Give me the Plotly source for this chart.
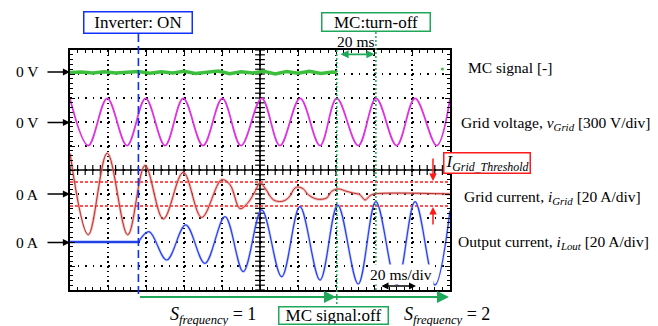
import numpy as np
import plotly.graph_objects as go

# page body has an 8px margin: the figure is drawn 8px in from the window corner
OFF = 8
W, H = 658 - OFF, 326 - OFF

# ---------------- data ----------------
T_SPAN_MS = 200          # 10 div x 20 ms/div
MS_PER_DIV = 20
V_PER_DIV = 300
A_PER_DIV = 20
INVERTER_ON_MS = 36.0
MC_SIGNAL_OFF_MS = 140.4
MC_TURNOFF_MS = 161.0
I_THRESHOLD_A = 10

# channel zero positions (in divisions from centre)
MC_ZERO_DIV = 4.06
VG_ZERO_DIV = 2.0
IG_ZERO_DIV = -1.0
IL_ZERO_DIV = -3.0

# MC signal (div, noisy band) until the signal switches off
mc_t = [0, 6, 12, 18, 24, 30, 36, 42, 48, 54, 60, 66, 72, 78, 84, 90, 96, 102,
        108, 114, 120, 126, 132, 138, 140.4]
mc_val = [0.00, 0.02, -0.02, 0.03, -0.02, 0.02, 0.04, -0.03, 0.03, -0.02, 0.05,
          -0.04, 0.02, 0.06, -0.05, 0.03, -0.02, 0.05, -0.06, 0.04, -0.03, 0.05,
          -0.04, 0.02, 0.0]

# Grid voltage extrema (ms, V)
vg_t = [0, 9.6, 19.6, 30.0, 39.8, 50.0, 59.6, 70.0, 80.2, 90.0, 100.9, 110.5,
        121.1, 131.6, 140.4, 151.7, 161.1, 171.9, 181.6, 193.0, 200.0]
vg_v = [290, -295, 295, -295, 295, -295, 295, -295, 295, -295, 295, -295,
        295, -295, 295, -295, 295, -295, 295, -295, 285]

# Grid current (ms, A)
ig_t = [0, 9.6, 19.6, 30.4, 39.5, 49.1, 59.6, 69.3, 79.8, 84.2, 89.5, 93.8,
        97.4, 100.0, 102.6, 107.0, 111.4, 114.9, 118.4, 120.2, 122.8, 125.4,
        129.8, 135.1, 137.7, 141.2, 145.6, 149.1, 152.6, 155.3, 157.9, 160.0, 200.0]
ig_a = [34, -34, 34, -34, 23.8, -20.8, 18.0, -19.5, 11.9, 7.8, -12.2, -7.0,
        2.2, 9.2, 5.0, -4.8, -6.2, -3.3, 5.0, 5.8, 4.2, -0.6,
        -4.2, -3.3, 2.2, 4.2, 2.2, 0.8, -0.6, -5.0, -1.4, 0.0, 0.0]

# Output current (ms, A)
il_off_t = [0, INVERTER_ON_MS]
il_off_a = [0, 0]
il_t = [INVERTER_ON_MS, 41.6, 50.9, 60.9, 71.0, 81.6, 91.2, 100.9, 111.4, 121.0,
        131.6, 140.9, 151.7, 161.0, 172.0, 181.6, 192.1, 200.0]
il_a = [0, 8.6, -15.0, 14.2, -17.8, 21.1, -24.7, 26.7, -28.9, 29.4,
        -31.7, 30.8, -35.0, 33.6, -35.8, 33.6, -35.8, 26.0]

# ---------------- layout helpers ----------------
PX_L, PX_R, PX_T, PX_B = 70, 450, 50, 290   # plot frame in window pixels
FONT = "Liberation Serif"
GREEN = "#1fa85a"
BLUE = "#1030ff"
RED = "#ff1a1a"


def xp(x):
    return (x - OFF) / W


def yp(y):
    return 1 - (y - OFF) / H


def div(vals, zero, scale):
    return [zero + v / scale for v in vals]


fig = go.Figure()

# tick marks along the centre lines
tx = np.arange(0, T_SPAN_MS + 0.01, MS_PER_DIV / 5)
ty = np.arange(-5, 5.001, 0.2)
fig.add_trace(go.Scatter(x=tx, y=[0] * len(tx), mode="markers", hoverinfo="skip",
                         marker=dict(symbol="line-ns", size=7,
                                     line=dict(color="black", width=1.2))))
fig.add_trace(go.Scatter(x=[T_SPAN_MS / 2] * len(ty), y=ty, mode="markers", hoverinfo="skip",
                         marker=dict(symbol="line-ew", size=7,
                                     line=dict(color="black", width=1.2))))

# MC signal
fig.add_trace(go.Scatter(x=mc_t, y=[MC_ZERO_DIV + v for v in mc_val], mode="lines",
                         line=dict(color="#3cbf3c", width=3.5)))
fig.add_trace(go.Scatter(x=[196], y=[MC_ZERO_DIV + 0.15], mode="markers",
                         marker=dict(color="#3cbf3c", size=3)))

# Grid voltage
fig.add_trace(go.Scatter(x=vg_t, y=div(vg_v, VG_ZERO_DIV, V_PER_DIV), mode="lines",
                         line=dict(color="#e033e0", width=1.8, shape="spline")))

# Grid current
ig_y = div(ig_a, IG_ZERO_DIV, A_PER_DIV)
fig.add_trace(go.Scatter(x=ig_t, y=ig_y, mode="lines",
                         line=dict(color="rgba(235,130,130,0.55)", width=2.8, shape="spline")))
fig.add_trace(go.Scatter(x=ig_t, y=ig_y, mode="lines",
                         line=dict(color="#b8302a", width=1.0, shape="spline")))

# Output current
il_y = div(il_a, IL_ZERO_DIV, A_PER_DIV)
fig.add_trace(go.Scatter(x=il_off_t, y=div(il_off_a, IL_ZERO_DIV, A_PER_DIV), mode="lines",
                         line=dict(color="#2040e8", width=2.3)))
fig.add_trace(go.Scatter(x=il_t, y=il_y, mode="lines",
                         line=dict(color="rgba(120,140,255,0.4)", width=2.6, shape="spline")))
fig.add_trace(go.Scatter(x=il_t, y=il_y, mode="lines",
                         line=dict(color="#2a3ff0", width=1.2, shape="spline")))

shapes = []
# centre lines
shapes.append(dict(type="line", xref="x", yref="y", x0=T_SPAN_MS / 2, x1=T_SPAN_MS / 2,
                   y0=-5, y1=5, line=dict(color="black", width=1.6), layer="between"))
shapes.append(dict(type="line", xref="x", yref="y", x0=0, x1=T_SPAN_MS, y0=0, y1=0,
                   line=dict(color="black", width=1.6), layer="between"))
# threshold lines
for s in (1, -1):
    yv = IG_ZERO_DIV + s * I_THRESHOLD_A / A_PER_DIV
    shapes.append(dict(type="line", xref="x", yref="y", x0=0, x1=T_SPAN_MS, y0=yv, y1=yv,
                       line=dict(color=RED, width=1.5, dash="3px,2px"), layer="between"))
# inverter ON line
shapes.append(dict(type="line", xref="x", yref="paper", x0=INVERTER_ON_MS, x1=INVERTER_ON_MS,
                   y0=yp(34), y1=yp(297), line=dict(color=BLUE, width=1.6, dash="8px,4px")))
# MC lines
shapes.append(dict(type="line", xref="x", yref="paper", x0=MC_SIGNAL_OFF_MS, x1=MC_SIGNAL_OFF_MS,
                   y0=yp(50), y1=yp(306), line=dict(color=GREEN, width=1.5, dash="2px,2px")))
shapes.append(dict(type="line", xref="x", yref="paper", x0=MC_TURNOFF_MS, x1=MC_TURNOFF_MS,
                   y0=yp(32), y1=yp(290), line=dict(color=GREEN, width=1.5, dash="2px,2px")))

ann = []


def text(x, y, s, size=15.5, xanchor="center", **kw):
    ann.append(dict(x=xp(x), y=yp(y), xref="paper", yref="paper", text=s, showarrow=False,
                    xanchor=xanchor, yanchor="middle",
                    font=dict(family=FONT, size=size, color="black"), **kw))


def box(cx, cy, w, h, s, color, size=17):
    ann.append(dict(x=xp(cx), y=yp(cy), xref="paper", yref="paper", text=s, showarrow=False,
                    xanchor="center", yanchor="middle", width=w - 3, height=h - 3,
                    bordercolor=color, borderwidth=1.5, borderpad=0, bgcolor="white",
                    font=dict(family=FONT, size=size, color="black")))


def arrow(hx, hy, tx_, ty_, color, width=1.5, size=1.0, both=False):
    d = dict(x=xp(hx), y=yp(hy), xref="paper", yref="paper", ax=tx_ - hx, ay=ty_ - hy,
             text="", showarrow=True, arrowhead=2, arrowsize=size, arrowwidth=width,
             arrowcolor=color, standoff=0)
    if both:
        d.update(arrowside="end+start", startarrowhead=2, startarrowsize=size, startstandoff=0)
    ann.append(d)


# left zero markers
for yy, lab in [(72, "0 V"), (122.5, "0 V"), (194, "0 A"), (242.5, "0 A")]:
    text(41, yy, lab, xanchor="right")
    arrow(70, yy, 46, yy, "black", width=1.3, size=1.1)

# right labels
text(466, 68, "MC signal [-]", xanchor="left")
text(459, 124, "Grid voltage, <i>v</i><sub><i>Grid</i></sub> [300 V/div]", xanchor="left")
text(462, 197, "Grid current, <i>i</i><sub><i>Grid</i></sub> [20 A/div]", xanchor="left")
text(456, 243, "Output current, <i>i</i><sub><i>Lout</i></sub> [20 A/div]", xanchor="left")

# boxes
box(138.3, 22.3, 110, 23, "Inverter: ON", BLUE)
box(375.7, 21.8, 110, 20, "MC:turn-off", GREEN)
box(333.7, 315.5, 111, 19, "MC signal:off", GREEN)
box(487.5, 163.3, 88, 22, "<i>I</i><sub><i>Grid_Threshold</i></sub>", RED, size=17)

# 20 ms
text(355.5, 42, "20 ms")
arrow(374.5, 54.3, 339, 54.3, GREEN, width=1.8, size=0.9, both=True)
# 20 ms/div
text(401, 274, "20 ms/div", bgcolor="white")
arrow(416, 286, 380, 286, "black", width=1.4, size=1.0, both=True)

# red threshold arrows
arrow(433, 181, 433, 157, RED, width=1.5, size=1.0)
arrow(433, 207, 433, 226, RED, width=1.5, size=1.0)

# green S_frequency arrows
arrow(336, 297, 138.5, 297, GREEN, width=2, size=1.2)
arrow(449, 297, 330, 297, GREEN, width=2, size=1.2)

text(213, 315, "<i>S</i><sub><i>frequency</i></sub> = 1", size=18)
text(447, 315, "<i>S</i><sub><i>frequency</i></sub> = 2", size=18)

axis_common = dict(showline=True, mirror="allticks", linewidth=2, linecolor="black",
                   ticks="inside", ticklen=5, tickwidth=1.2, tickcolor="black",
                   showticklabels=False, showgrid=True, gridcolor="black", gridwidth=1.6,
                   zeroline=False, fixedrange=True)

fig.update_layout(
    width=W, height=H, margin=dict(l=0, r=0, t=0, b=0),
    paper_bgcolor="white", plot_bgcolor="white", showlegend=False,
    xaxis=dict(domain=[xp(PX_L), xp(PX_R)], range=[0, T_SPAN_MS], dtick=MS_PER_DIV, tick0=0,
               griddash="1.6px,3.2px",
               minor=dict(dtick=MS_PER_DIV / 5, ticks="inside", ticklen=3, tickcolor="black",
                          tickwidth=1, showgrid=False),
               **axis_common),
    yaxis=dict(domain=[yp(PX_B), yp(PX_T)], range=[-5, 5], dtick=1, tick0=0,
               griddash="1.6px,6px",
               minor=dict(dtick=0.2, ticks="inside", ticklen=3, tickcolor="black",
                          tickwidth=1, showgrid=False),
               **axis_common),
    shapes=shapes, annotations=ann,
)

fig.write_html("out.html")
